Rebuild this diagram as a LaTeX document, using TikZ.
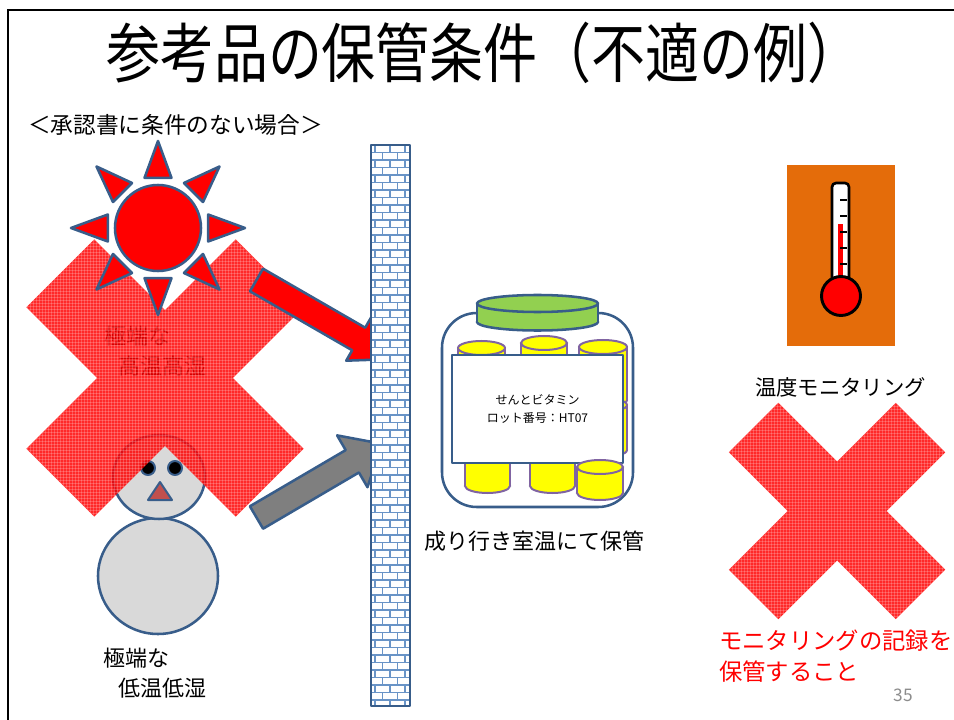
\documentclass[tikz,border=0pt]{standalone}
\usepackage{fontspec}
\setmainfont{Noto Sans CJK JP}

\definecolor{outl}{HTML}{385D8A}
\definecolor{mortar}{HTML}{4F81BD}
\definecolor{snow}{HTML}{D9D9D9}
\definecolor{nose}{HTML}{C0504D}
\definecolor{lidgreen}{HTML}{92D050}
\definecolor{pill}{HTML}{FFFF00}
\definecolor{pillline}{HTML}{8064A2}
\definecolor{panel}{HTML}{E46C0A}
\definecolor{arrowgray}{HTML}{7F7F7F}
\definecolor{pagenum}{HTML}{8C8C8C}

\newcommand{\fsz}[1]{\fontsize{#1}{#1}\selectfont}

% plus sign turned by 45 degrees: centre, arm half length, arm half width
\newcommand{\crosspath}[4]{%
  [shift={(#1,#2)}, rotate=45]
  (#3,#4) -- (#4,#4) -- (#4,#3) -- (-#4,#3) -- (-#4,#4) -- (-#3,#4) --
  (-#3,-#4) -- (-#4,-#4) -- (-#4,-#3) -- (#4,-#3) -- (#4,-#4) -- (#3,-#4) -- cycle}

% hatched red cross: centre, arm half length, arm half width, box half size
\newcommand{\redcross}[5]{%
  \fill[crossfill] \crosspath{#1}{#2}{#3}{#4};
  \begin{scope}
    \clip \crosspath{#1}{#2}{#3}{#4};
    \foreach \g in {-#5,-\numexpr#5-3\relax,...,#5} {
      \draw[crossline] (#1+\g,#2-#5) -- (#1+\g,#2+#5);
      \draw[crossline] (#1-#5,#2+\g) -- (#1+#5,#2+\g);
    }
  \end{scope}
}

% yellow tablet: left x, right x, top y, bottom y
\newcommand{\tablet}[4]{%
  \pgfmathsetmacro{\tc}{(#1+#2)/2}%
  \pgfmathsetmacro{\tr}{(#2-#1)/2}%
  \filldraw[tabletline] (\tc,#4) ellipse [x radius=\tr, y radius=7];
  \fill[pill] (#1,#3) rectangle (#2,#4);
  \draw[tabletline] (#1,#3) -- (#1,#4) (#2,#3) -- (#2,#4);
  \filldraw[tabletline] (\tc,#3) ellipse [x radius=\tr, y radius=7];
}

\tikzset{
  shape line/.style={draw=outl, line width=1.9pt, line join=round},
  tabletline/.style={draw=pillline, fill=pill, line width=1.5pt},
  crossfill/.style={fill=red, fill opacity=0.84},
  crossline/.style={draw=white, draw opacity=0.2, line width=0.5pt},
  jp/.style={inner sep=0pt, anchor=west},
}

\begin{document}
\begin{tikzpicture}[x=0.75pt, y=-0.75pt]
\useasboundingbox (0,0) rectangle (954,720);
\fill[white] (0,0) rectangle (954,720);

% slide frame
\draw[line width=1.9pt] (8,720) -- (8,10) -- (954,10);

% title and heading
\node[inner sep=0pt] (title) at (484,53) {\scalebox{1.0}[1.2]{\fsz{40.5pt}参考品の保管条件（不適の例）}};
\node[jp] (cond) at (28,125) {\fsz{17pt}＜承認書に条件のない場合＞};

% labels under the left cross
\node[jp] (hot1) at (104,336) {\fsz{16.5pt}極端な};
\node[jp] (hot2) at (118,366) {\fsz{16.5pt}高温高湿};

% snowman
\filldraw[shape line, fill=snow] (158,576) ellipse [x radius=60, y radius=58];
\filldraw[shape line, fill=snow] (159,477) ellipse [x radius=46, y radius=42];
\filldraw[shape line, fill=black, line width=1.5pt] (148,468) circle [radius=7];
\filldraw[shape line, fill=black, line width=1.5pt] (175,468) circle [radius=7];
\filldraw[shape line, fill=nose, line width=1.5pt] (160,482) -- (172,500) -- (148,500) -- cycle;
\node[jp] (cold1) at (103,658) {\fsz{16.5pt}極端な};
\node[jp] (cold2) at (118,688) {\fsz{16.5pt}低温低湿};

% left cross
\redcross{165}{378}{148}{48}{141}

% sun
\filldraw[shape line, fill=red] (158,228) circle [radius=43];
\foreach \a in {0,45,...,315}
  \filldraw[shape line, fill=red]
    ([shift={(158,228)}]\a:87) -- ([shift={(158,228)}]\a+15:52)
    -- ([shift={(158,228)}]\a-15:52) -- cycle;

% block arrows towards the wall
\filldraw[shape line, fill=red]
  (250,291.3) -- (263,268.7) -- (365.2,327.7) -- (371.2,317.3)
  -- (393.3,359) -- (346.2,360.7) -- (352.2,350.3) -- cycle;
\filldraw[shape line, fill=arrowgray]
  (249.9,506.3) -- (345.7,450.1) -- (337.1,435.4) -- (382,443.8)
  -- (367.5,487.2) -- (358.9,472.5) -- (263.1,528.7) -- cycle;

% brick wall
\begin{scope}
  \clip (371,145) rectangle (410,706);
  \fill[white] (371,145) rectangle (410,706);
  \foreach \i in {0,...,74} {
    \pgfmathsetmacro{\ya}{145+7.5*\i}
    \pgfmathsetmacro{\yb}{\ya+7.5}
    \pgfmathsetmacro{\off}{mod(\i,2)*7.5}
    \draw[mortar!85, line width=1.1pt] (371,\yb) -- (410,\yb);
    \foreach \k in {0,1,2} {
      \pgfmathsetmacro{\xx}{371+\off+4+15*\k}
      \draw[mortar!85, line width=1.1pt] (\xx,\ya) -- (\xx,\yb);
    }
  }
\end{scope}
\draw[shape line] (371,145) rectangle (410,706);

% jar with tablets
\draw[shape line, fill=white, rounded corners=26pt] (442,313) rectangle (633,507);
\tablet{458}{505}{348}{400}
\tablet{521}{567}{343}{395}
\tablet{579}{627}{347}{400}
\tablet{579}{627}{405}{450}
\tablet{465}{510}{440}{486}
\tablet{530}{575}{440}{486}
\node[shape line, fill=white, minimum width=171*0.75pt, minimum height=108*0.75pt,
      inner sep=0pt, align=center, font=\fsz{9pt}] (tag) at (537.5,409)
      {せんとビタミン\\[4pt]ロット番号：HT07};
\tablet{577}{623}{467}{493}
% lid
\filldraw[shape line, fill=lidgreen] (537.5,322) ellipse [x radius=60.5, y radius=8.5];
\fill[lidgreen] (477,303.5) rectangle (598,322);
\draw[shape line] (477,303.5) -- (477,322) (598,303.5) -- (598,322);
\filldraw[shape line, fill=lidgreen] (537.5,303.5) ellipse [x radius=60.5, y radius=8.5];
\node[jp] (store) at (424,541) {\fsz{16.5pt}成り行き室温にて保管};

% thermometer panel
\fill[panel] (787,165) rectangle (895,346);
\filldraw[draw=black, fill=white, line width=2pt, rounded corners=3pt] (832,183) rectangle (849,292);
\fill[red] (838,224) rectangle (843,285);
\foreach \t in {200,216,232,248,264}
  \draw[line width=0.9pt] (840,\t) -- (847,\t);
\filldraw[draw=black, fill=red, line width=2.2pt] (841,296) circle [radius=19.5];
\node[jp] (mon) at (755,387) {\fsz{16pt}温度モニタリング};

% right cross
\redcross{837}{511}{118}{35}{111}

% note in red and page number
\node[jp, text=red] (note1) at (719,641) {\fsz{17.5pt}モニタリングの記録を};
\node[jp, text=red] (note2) at (719,672) {\fsz{17.5pt}保管すること};
\node[inner sep=0pt, text=pagenum] (page) at (903,695) {\fsz{13pt}35};
\end{tikzpicture}
\end{document}
